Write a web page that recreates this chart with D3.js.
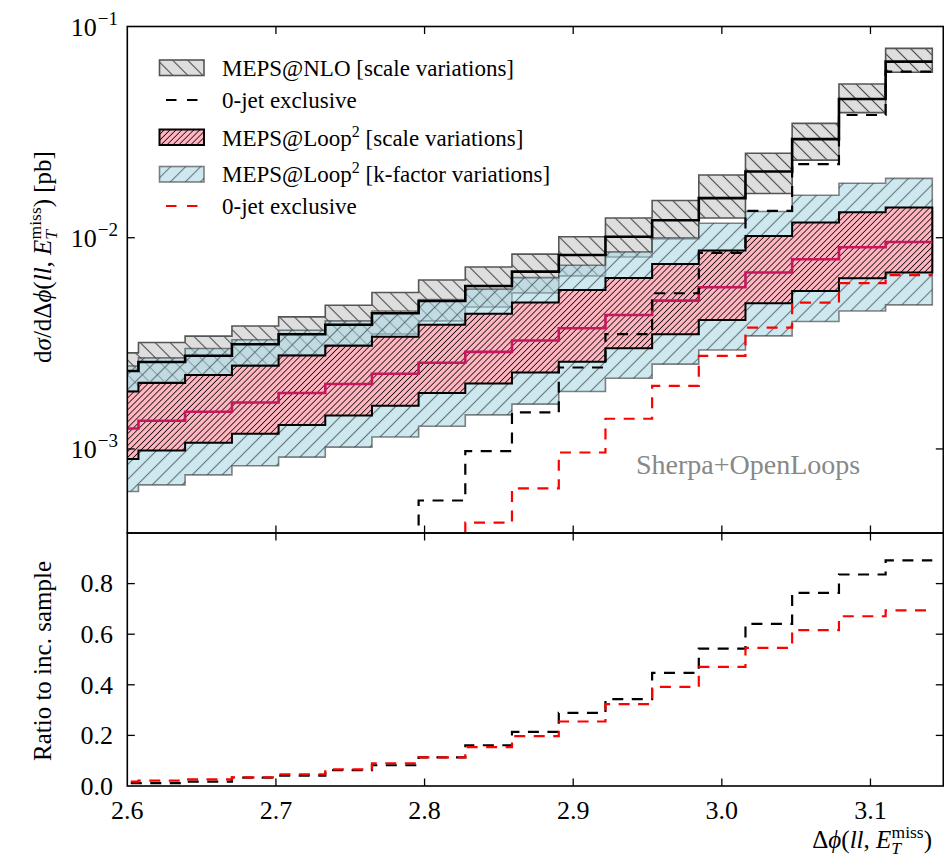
<!DOCTYPE html>
<html>
<head>
<meta charset="utf-8">
<script src="https://cdn.jsdelivr.net/npm/d3@7"></script>
<style>
  body { margin: 0; background: #fff; }
  svg { font-family: "Liberation Serif", "Times New Roman", serif; }
</style>
</head>
<body>
<div id="chart"></div>
<script>
// bin edges in delta phi (width pi/100)
const binEdges = [2.5761, 2.6075, 2.6389, 2.6704, 2.7018, 2.7332, 2.7646, 2.7960, 2.8274,
  2.8588, 2.8903, 2.9217, 2.9531, 2.9845, 3.0159, 3.0473, 3.0788, 3.1102, 3.1416];

// MEPS@NLO scale variation band and central value [pb]
const nloUp = [0.00285, 0.00319, 0.00342, 0.00382, 0.00422, 0.00479, 0.0055, 0.00631, 0.00727,
  0.00836, 0.0101, 0.0124, 0.0150, 0.0198, 0.0251, 0.0348, 0.0534, 0.0788];
const nloCentral = [0.00234, 0.00258, 0.00276, 0.00313, 0.00349, 0.00387, 0.00439, 0.00502, 0.00591,
  0.00691, 0.00829, 0.0101, 0.0121, 0.0154, 0.0206, 0.0293, 0.0454, 0.0682];
const nloDown = [0.00188, 0.00208, 0.00222, 0.0025, 0.00279, 0.00311, 0.0035, 0.00404, 0.0047,
  0.00548, 0.0066, 0.00811, 0.00987, 0.0124, 0.0162, 0.0233, 0.0391, 0.0607];

// MEPS@Loop2 scale variation band and central value [pb]
const loopUp = [0.00187, 0.00205, 0.00224, 0.00248, 0.00277, 0.00308, 0.0034, 0.00387, 0.00436,
  0.00494, 0.00566, 0.00645, 0.0075, 0.00869, 0.0102, 0.0118, 0.0132, 0.0139];
const loopCentral = [0.00125, 0.00136, 0.0015, 0.00166, 0.00184, 0.00203, 0.00227, 0.00256, 0.00288,
  0.00326, 0.00373, 0.00431, 0.00504, 0.00583, 0.00684, 0.00791, 0.00902, 0.00955];
const loopDown = [0.000895, 0.000983, 0.00107, 0.00118, 0.0013, 0.00144, 0.0016, 0.00184, 0.00204,
  0.0023, 0.00259, 0.003, 0.00349, 0.00408, 0.0049, 0.0056, 0.00643, 0.00685];

// MEPS@Loop2 k-factor variation band [pb]
const kUp = [0.00247, 0.0027, 0.00299, 0.00329, 0.00365, 0.00404, 0.0045, 0.00509, 0.00571,
  0.00647, 0.00741, 0.00857, 0.0100, 0.0117, 0.0133, 0.0159, 0.0181, 0.0191];
const kDown = [0.000629, 0.000676, 0.000754, 0.000832, 0.000915, 0.00102, 0.00114, 0.00128, 0.00145,
  0.00163, 0.00187, 0.00216, 0.00252, 0.00294, 0.00343, 0.00401, 0.0045, 0.00481];

// 0-jet exclusive [pb]
const jet0Nlo = [2.6e-5, 2.8e-5, 4.7e-5, 1.0e-4, 1.4e-4, 2.4e-4, 3.6e-4, 0.00057, 0.000976,
  0.00149, 0.00243, 0.0035, 0.00546, 0.00848, 0.0134, 0.0223, 0.0381, 0.0611];
const jet0Loop = [2.1e-5, 2.9e-5, 3.9e-5, 5.6e-5, 8.5e-5, 1.34e-4, 2.04e-4, 2.9e-4, 0.000448,
  0.00065, 0.000962, 0.00139, 0.00199, 0.00276, 0.00375, 0.00493, 0.00609, 0.00665];

// ratio to inclusive sample
const ratioNlo = [0.011, 0.011, 0.017, 0.033, 0.041, 0.063, 0.082, 0.113, 0.161,
  0.214, 0.289, 0.343, 0.447, 0.543, 0.641, 0.763, 0.836, 0.892];
const ratioLoop = [0.017, 0.021, 0.026, 0.034, 0.046, 0.066, 0.090, 0.113, 0.154,
  0.197, 0.255, 0.324, 0.392, 0.471, 0.546, 0.616, 0.671, 0.694];

const xTicks = [2.6, 2.7, 2.8, 2.9, 3.0, 3.1];
const yTopTicks = [0.1, 0.01, 0.001];
const yTopTickLabels = ['\u22121', '\u22122', '\u22123'];
const yRatioTicks = [0.0, 0.2, 0.4, 0.6, 0.8];

const W = 944, H = 859;
const pLeft = 127.3, pRight = 943.3, pTop = 26.5, pMid = 533, pBottom = 786;

const svg = d3.select('#chart').append('svg')
  .attr('width', W).attr('height', H);

const x = d3.scaleLinear().domain([2.6, 3.149]).range([pLeft, pRight]);
const yTop = d3.scaleLog().domain([4e-4, 0.1]).range([pMid, pTop]);
const yRatio = d3.scaleLinear().domain([0, 1]).range([pBottom, pMid]);

// hatch patterns
const defs = svg.append('defs');
function hatch(id, size, angle, color, width) {
  const p = defs.append('pattern')
    .attr('id', id)
    .attr('patternUnits', 'userSpaceOnUse')
    .attr('width', size).attr('height', size)
    .attr('patternTransform', `rotate(${angle})`);
  p.append('line')
    .attr('x1', size / 2).attr('y1', -1)
    .attr('x2', size / 2).attr('y2', size + 1)
    .attr('stroke', color).attr('stroke-width', width);
}
hatch('hNlo', 10.6, -45, '#4a4a4a', 1.1);
hatch('hLoop', 4.2, 45, '#000', 0.75);
hatch('hK', 10.6, 45, '#4f5a5e', 1.1);

defs.append('clipPath').attr('id', 'clipTop').append('rect')
  .attr('x', pLeft).attr('y', pTop).attr('width', pRight - pLeft).attr('height', pMid - pTop);
defs.append('clipPath').attr('id', 'clipBot').append('rect')
  .attr('x', pLeft).attr('y', pMid).attr('width', pRight - pLeft).attr('height', pBottom - pMid);

const n = binEdges.length - 1;
const idx = i => Math.min(i, n - 1);

function bandPath(lo, hi, y) {
  return d3.area()
    .x(d => x(d))
    .y0((d, i) => y(lo[idx(i)]))
    .y1((d, i) => y(hi[idx(i)]))
    .curve(d3.curveStepAfter)(binEdges);
}
function stepPath(vals, y) {
  return d3.line()
    .x(d => x(d))
    .y((d, i) => y(vals[idx(i)]))
    .curve(d3.curveStepAfter)(binEdges);
}

const styles = {
  nlo: { fill: '#dedede', opacity: 1, edge: '#555', hatch: 'url(#hNlo)', ew: 1.6 },
  k: { fill: '#add8e6', opacity: 0.6, edge: '#333', hatch: 'url(#hK)', ew: 1.6 },
  loop: { fill: '#ffb6c1', opacity: 1, edge: '#000', hatch: 'url(#hLoop)', ew: 2 }
};

function drawBand(g, lo, hi, st) {
  const d = bandPath(lo, hi, yTop);
  g.append('path').attr('d', d).attr('fill', st.fill).attr('fill-opacity', st.opacity);
  g.append('path').attr('d', d).attr('fill', st.hatch).attr('opacity', st.opacity < 1 ? 0.8 : 1);
  g.append('path').attr('d', d).attr('fill', 'none')
    .attr('stroke', st.edge).attr('stroke-opacity', st.opacity < 1 ? 0.6 : 1)
    .attr('stroke-width', st.ew);
}

// top panel
const gTop = svg.append('g').attr('clip-path', 'url(#clipTop)');
drawBand(gTop, nloDown, nloUp, styles.nlo);
drawBand(gTop, kDown, kUp, styles.k);
drawBand(gTop, loopDown, loopUp, styles.loop);

gTop.append('path').attr('d', stepPath(nloCentral, yTop))
  .attr('fill', 'none').attr('stroke', '#000').attr('stroke-width', 2.6);
gTop.append('path').attr('d', stepPath(loopCentral, yTop))
  .attr('fill', 'none').attr('stroke', '#c8175d').attr('stroke-width', 2.6);
gTop.append('path').attr('d', stepPath(jet0Nlo, yTop))
  .attr('fill', 'none').attr('stroke', '#000').attr('stroke-width', 2.2)
  .attr('stroke-dasharray', '11,8.5');
gTop.append('path').attr('d', stepPath(jet0Loop, yTop))
  .attr('fill', 'none').attr('stroke', '#f00').attr('stroke-width', 2.2)
  .attr('stroke-dasharray', '11,8.5');

// bottom panel
const gBot = svg.append('g').attr('clip-path', 'url(#clipBot)');
gBot.append('path').attr('d', stepPath(ratioNlo, yRatio))
  .attr('fill', 'none').attr('stroke', '#000').attr('stroke-width', 2.2)
  .attr('stroke-dasharray', '11,8.5');
gBot.append('path').attr('d', stepPath(ratioLoop, yRatio))
  .attr('fill', 'none').attr('stroke', '#f00').attr('stroke-width', 2.2)
  .attr('stroke-dasharray', '11,8.5');

// frames and ticks
const axes = svg.append('g').attr('stroke', '#000').attr('fill', 'none');
axes.append('rect').attr('x', pLeft).attr('y', pTop)
  .attr('width', pRight - pLeft).attr('height', pMid - pTop).attr('stroke-width', 1.6);
axes.append('rect').attr('x', pLeft).attr('y', pMid)
  .attr('width', pRight - pLeft).attr('height', pBottom - pMid).attr('stroke-width', 1.6);

const tl = 7.5;
function vTicks(y0, y1) {
  axes.selectAll(null).data(xTicks.slice(1)).join('line')
    .attr('x1', d => x(d)).attr('x2', d => x(d))
    .attr('y1', y0).attr('y2', y0 + tl).attr('stroke-width', 1.3);
  axes.selectAll(null).data(xTicks.slice(1)).join('line')
    .attr('x1', d => x(d)).attr('x2', d => x(d))
    .attr('y1', y1).attr('y2', y1 - tl).attr('stroke-width', 1.3);
}
vTicks(pTop, pMid);
vTicks(pMid, pBottom);

function hTicks(vals, y) {
  axes.selectAll(null).data(vals).join('line')
    .attr('x1', pLeft).attr('x2', pLeft + tl)
    .attr('y1', d => y(d)).attr('y2', d => y(d)).attr('stroke-width', 1.3);
  axes.selectAll(null).data(vals).join('line')
    .attr('x1', pRight).attr('x2', pRight - tl)
    .attr('y1', d => y(d)).attr('y2', d => y(d)).attr('stroke-width', 1.3);
}
hTicks(yTopTicks.slice(1), yTop);
hTicks(yRatioTicks.slice(1), yRatio);

// tick labels
const labels = svg.append('g').attr('fill', '#000');
labels.selectAll(null).data(xTicks).join('text')
  .attr('x', d => x(d)).attr('y', 819)
  .attr('text-anchor', 'middle').attr('font-size', 26)
  .text(d => d.toFixed(1));

labels.selectAll(null).data(yRatioTicks).join('text')
  .attr('x', 113).attr('y', d => yRatio(d) + 8.8)
  .attr('text-anchor', 'end').attr('font-size', 26)
  .text(d => d.toFixed(1));

const yl = labels.selectAll(null).data(yTopTicks).join('text')
  .attr('x', 118).attr('y', d => yTop(d) + 9)
  .attr('text-anchor', 'end').attr('font-size', 26);
yl.append('tspan').text('10');
yl.append('tspan').attr('font-size', 19).attr('dy', -11).attr('dx', 1)
  .text((d, i) => yTopTickLabels[i]);

// axis labels
function mathLabel(t, parts) {
  parts.forEach(p => {
    const s = t.append('tspan').text(p.t);
    if (p.i) s.attr('font-style', 'italic');
    if (p.fs) s.attr('font-size', p.fs);
    if (p.dy) s.attr('dy', p.dy);
    if (p.dx) s.attr('dx', p.dx);
  });
}
const etMiss = sz => [
  { t: 'E', i: true },
  { t: 'T', i: true, fs: sz * 0.7, dy: sz * 0.22 },
  { t: 'miss', fs: sz * 0.7, dy: -sz * 0.62, dx: -sz * 0.38 },
  { t: ')', dy: sz * 0.4 }
];

const ylab = labels.append('text')
  .attr('transform', 'translate(51,257) rotate(-90)')
  .attr('text-anchor', 'middle').attr('font-size', 25);
mathLabel(ylab, [
  { t: 'd' }, { t: '\u03c3', i: true }, { t: '/d\u0394' }, { t: '\u03d5', i: true },
  { t: '(' }, { t: 'll', i: true }, { t: ', ' }
].concat(etMiss(25)).concat([{ t: ' [pb]' }]));

labels.append('text')
  .attr('transform', 'translate(51,661) rotate(-90)')
  .attr('text-anchor', 'middle').attr('font-size', 25)
  .text('Ratio to inc. sample');

const xlab = labels.append('text')
  .attr('x', 932).attr('y', 848)
  .attr('text-anchor', 'end').attr('font-size', 25);
mathLabel(xlab, [
  { t: '\u0394' }, { t: '\u03d5', i: true }, { t: '(' }, { t: 'll', i: true }, { t: ', ' }
].concat(etMiss(25)));

labels.append('text')
  .attr('x', 636).attr('y', 474).attr('font-size', 28).attr('fill', '#888')
  .text('Sherpa+OpenLoops');

// legend
const legendLabels = [
  ['MEPS@NLO', null, ' [scale variations]'],
  ['0-jet exclusive', null, ''],
  ['MEPS@Loop', '2', ' [scale variations]'],
  ['MEPS@Loop', '2', ' [k-factor variations]'],
  ['0-jet exclusive', null, '']
];
const legendBase = [76, 108.3, 145.7, 181.7, 214.3];
const legendHandles = [
  { type: 'patch', st: styles.nlo, y: 60 },
  { type: 'line', color: '#000', y: 100 },
  { type: 'patch', st: styles.loop, y: 129.5 },
  { type: 'patch', st: styles.k, y: 166.5 },
  { type: 'line', color: '#f00', y: 206 }
];
const lg = svg.append('g');
legendHandles.forEach((h, i) => {
  if (h.type === 'patch') {
    const r = () => lg.append('rect').attr('x', 159.5).attr('y', h.y).attr('width', 44.5).attr('height', 15.5);
    r().attr('fill', h.st.fill).attr('fill-opacity', h.st.opacity);
    r().attr('fill', h.st.hatch).attr('opacity', h.st.opacity < 1 ? 0.8 : 1);
    r().attr('fill', 'none').attr('stroke', h.st.edge)
      .attr('stroke-opacity', h.st.opacity < 1 ? 0.6 : 1).attr('stroke-width', h.st.ew);
  } else {
    lg.append('line').attr('x1', 166).attr('x2', 197.5).attr('y1', h.y).attr('y2', h.y)
      .attr('stroke', h.color).attr('stroke-width', 2.2).attr('stroke-dasharray', '10.5,10.5');
  }
  const t = lg.append('text').attr('x', 222).attr('y', legendBase[i]).attr('font-size', 23);
  t.append('tspan').text(legendLabels[i][0]);
  if (legendLabels[i][1]) {
    t.append('tspan').attr('font-size', 16).attr('dy', -9).text(legendLabels[i][1]);
    t.append('tspan').attr('dy', 9).text(legendLabels[i][2]);
  } else {
    t.append('tspan').text(legendLabels[i][2]);
  }
});
</script>
</body>
</html>
